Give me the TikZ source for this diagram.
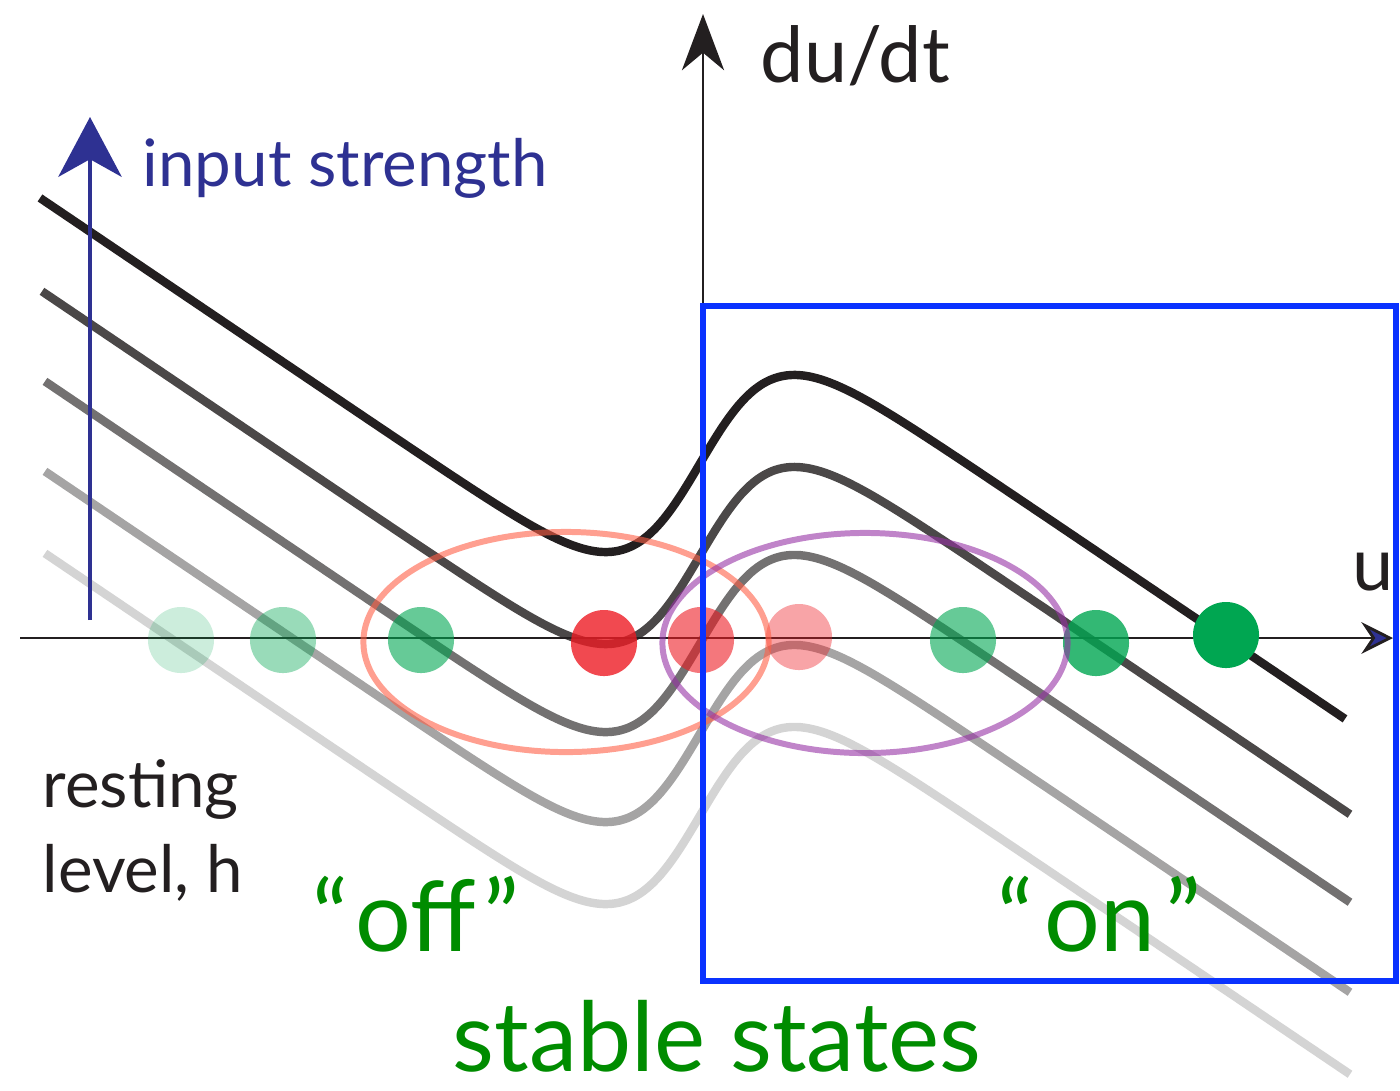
\documentclass[tikz,border=0pt]{standalone}
\usepackage{fontspec}
\setmainfont{Lato}
\usepackage{xcolor}
\definecolor{inkblack}{RGB}{35,31,32}
\definecolor{crvB}{RGB}{75,72,72}
\definecolor{crvC}{RGB}{115,113,113}
\definecolor{crvD}{RGB}{165,164,164}
\definecolor{crvE}{RGB}{212,212,212}
\definecolor{inputblue}{RGB}{46,49,146}
\definecolor{boxblue}{RGB}{10,50,255}
\definecolor{stategreen}{RGB}{0,140,0}
\definecolor{dotgreen}{RGB}{0,166,81}
\definecolor{dotred}{RGB}{237,28,36}
\definecolor{offring}{RGB}{255,95,70}
\definecolor{onring}{RGB}{150,50,165}
\usetikzlibrary{arrows.meta, positioning, shapes.geometric}

\tikzset{
  curve/.style={line width=2.4pt},
  axis/.style={line width=0.6pt, inkblack},
  dot/.style={circle, minimum size=6.6mm, inner sep=0pt},
  ring/.style={ellipse, line width=1.7pt, draw opacity=0.6, minimum width=4.05cm, minimum height=2.2cm, inner sep=0pt},
  lbl/.style={anchor=base west, inner sep=0pt}
}

\begin{document}
\begin{tikzpicture}[x=0.01cm, y=-0.01cm]
  \useasboundingbox (0,0) rectangle (1400,1090);

  % Nullcline family, one per resting level
  \foreach \yo/\col/\xs/\xe in {550/crvE/45/1350, 468/crvD/45/1350, 378/crvC/45/1350, 290/crvB/42/1350, 198/inkblack/40/1345} {
    \draw[curve, \col] plot[domain=\xs:\xe, samples=160, smooth]
      (\x, {\yo + 0.675*(\x-40) - 360/(1+exp(min(9,-(\x-700)/38)))});
  }

  % Axes
  \coordinate (ustart) at (20,638);
  \coordinate (uend) at (1393,638);
  \coordinate (origin) at (703,638);
  \coordinate (dtop) at (703,14);
  \draw[axis, -{Stealth[length=9pt, width=9pt, inset=3pt, fill=inputblue, line width=0.8pt]}] (ustart) -- (uend);
  \draw[axis, -{Stealth[length=16pt, width=12pt, inset=5pt]}] (origin) -- (dtop);

  % Input strength arrow
  \coordinate (inbot) at (90,620);
  \coordinate (intop) at (90,117);
  \draw[line width=1.2pt, inputblue, -{Stealth[length=17pt, width=18pt, inset=5pt]}] (inbot) -- (intop);

  % Fixed points along the u axis
  \foreach \px/\py/\col/\op/\nm in {181/640/dotgreen/0.2/fpa, 283/640/dotgreen/0.4/fpb, 421/640/dotgreen/0.6/fpc,
      604/643/dotred/0.8/fpd, 701/640/dotred/0.6/fpe, 799/637/dotred/0.4/fpf,
      963/640/dotgreen/0.6/fpg, 1096/643/dotgreen/0.8/fph, 1226/635/dotgreen/1/fpi} {
    \node[dot, fill=\col, fill opacity=\op] (\nm) at (\px,\py) {};
  }

  % Bistable regions
  \node[ring, draw=offring] (offzone) at (566,642) {};
  \node[ring, draw=onring] (onzone) at (865,643) {};

  % "on" side box
  \draw[boxblue, line width=1.8pt] (703,306) rectangle (1396,981);

  % Labels
  \node[lbl, font=\fontsize{22}{26}\selectfont, inkblack] (dudt) at (760,82) {du/dt};
  \node[lbl, font=\fontsize{21}{25}\selectfont, inkblack] (ulbl) at (1352,590) {u};
  \node[lbl, font=\fontsize{18.6}{22}\selectfont, inputblue] (instr) at (142,186) {input strength};
  \node[lbl, font=\fontsize{18.6}{22}\selectfont, inkblack] (rest) at (42,807) {resting};
  \node[lbl, font=\fontsize{18.6}{22}\selectfont, inkblack] (lvl) at (42,892) {level, h};
  \node[lbl, font=\fontsize{28}{32}\selectfont, stategreen] (offlbl) at (312,951) {“\kern2pt off\kern2pt”};
  \node[lbl, font=\fontsize{28}{32}\selectfont, stategreen] (onlbl) at (997,951) {“\kern3pt on\kern3pt”};
  \node[lbl, font=\fontsize{27.5}{31}\selectfont, stategreen] (stable) at (452,1071) {stable states};
\end{tikzpicture}
\end{document}
